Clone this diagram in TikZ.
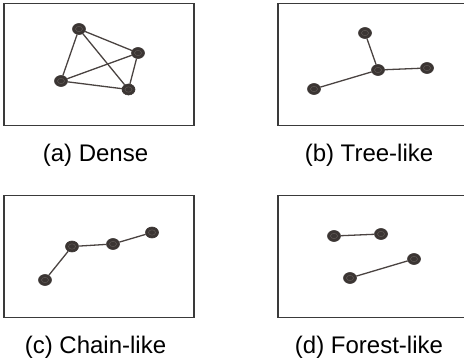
\documentclass[tikz,border=0pt]{standalone}
\usepackage{fontspec}
\setmainfont{Liberation Sans}
\usepackage{tikz}
\usetikzlibrary{shapes.geometric}
\definecolor{vertexgray}{HTML}{3B3533}
\definecolor{ringgray}{HTML}{615A57}
\definecolor{edgegray}{HTML}{4A4341}
\definecolor{framegray}{HTML}{3A3A3A}
\tikzset{
    vertex/.style={ellipse, fill=vertexgray, draw=vertexgray, line width=0.6pt,
      minimum width=13pt, minimum height=11pt, inner sep=0pt,
      path picture={\draw[ringgray, line width=0.5pt]
        (path picture bounding box.center) ellipse (3.5pt and 2.7pt);}},
    link/.style={draw=edgegray, line width=1.3pt},
    frame/.style={draw=framegray, line width=1.1pt},
    caption/.style={anchor=base, font=\fontsize{24}{28}\selectfont},
}

\begin{document}
\begin{tikzpicture}[x=1pt, y=-1pt]
    \useasboundingbox (0,0) rectangle (464,362);

    % (a) dense
    \draw[frame] (4,3.5) rectangle (194,125.5);
    \node[vertex] (a1) at (79,29) {};
    \node[vertex] (a2) at (138,53) {};
    \node[vertex] (a3) at (61,81) {};
    \node[vertex] (a4) at (128.5,89.5) {};
    \foreach \u/\v in {a1/a2, a1/a3, a1/a4, a2/a3, a2/a4, a3/a4}
      \draw[link] (\u) -- (\v);
    \node[caption] (capa) at (95.5,161.5) {(a) Dense};

    % (b) tree-like
    \draw[frame] (278,3.5) rectangle (467,125.5);
    \node[vertex] (b1) at (365,33) {};
    \node[vertex] (b2) at (378,70) {};
    \node[vertex] (b3) at (427,68) {};
    \node[vertex] (b4) at (314,89) {};
    \draw[link] (b1) -- (b2);
    \draw[link] (b2) -- (b3);
    \draw[link] (b2) -- (b4);
    \node[caption] (capb) at (369,161.5) {(b) Tree-like};

    % (c) chain-like
    \draw[frame] (4,195.5) rectangle (194,317.5);
    \node[vertex] (c1) at (45,280) {};
    \node[vertex] (c2) at (72,246.5) {};
    \node[vertex] (c3) at (113,244) {};
    \node[vertex] (c4) at (152,232.5) {};
    \draw[link] (c1) -- (c2) -- (c3) -- (c4);
    \node[caption] (capc) at (95.5,353.5) {(c) Chain-like};

    % (d) forest-like
    \draw[frame] (278,195.5) rectangle (467,317.5);
    \node[vertex] (d1) at (334,236) {};
    \node[vertex] (d2) at (381,234) {};
    \node[vertex] (d3) at (350,278) {};
    \node[vertex] (d4) at (414,259) {};
    \draw[link] (d1) -- (d2);
    \draw[link] (d3) -- (d4);
    \node[caption] (capd) at (369,353.5) {(d) Forest-like};
\end{tikzpicture}
\end{document}
